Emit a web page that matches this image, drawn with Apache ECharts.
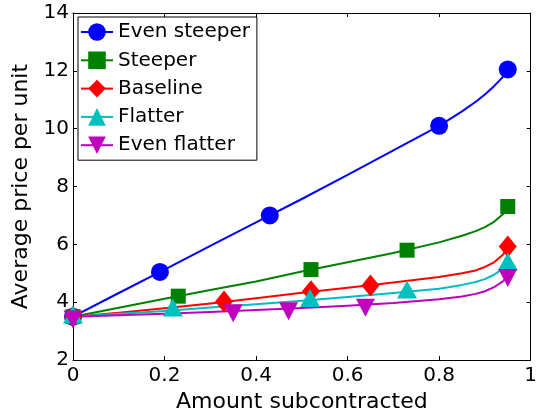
<!DOCTYPE html>
<html>
<head>
<meta charset="utf-8">
<script src="https://cdn.jsdelivr.net/npm/echarts@6/dist/echarts.min.js"></script>
<style>html,body{margin:0;padding:0;background:#fff}#c{width:540px;height:418px}</style>
</head>
<body>
<div id="c"></div>
<script>
// Series names
var seriesNames = ['Even steeper', 'Steeper', 'Baseline', 'Flatter', 'Even flatter'];

// Curve sample points, shared x positions
var curveX = [0, 0.1, 0.2, 0.3, 0.4, 0.5, 0.6, 0.7, 0.8, 0.85, 0.88, 0.9, 0.92, 0.94, 0.95];
var evenSteeperCurve = [3.5, 4.32, 5.13, 5.95, 6.76, 7.57, 8.4, 9.25, 10.1, 10.6, 10.93, 11.18, 11.47, 11.8, 12.05];
var steeperCurve     = [3.5, 3.81, 4.12, 4.42, 4.72, 5.06, 5.38, 5.7, 6.07, 6.3, 6.46, 6.6, 6.78, 7.05, 7.31];
var baselineCurve    = [3.5, 3.64, 3.79, 3.96, 4.14, 4.33, 4.5, 4.68, 4.87, 5.0, 5.1, 5.22, 5.38, 5.65, 5.93];
var flatterCurve     = [3.5, 3.6, 3.7, 3.82, 3.93, 4.05, 4.18, 4.32, 4.47, 4.6, 4.7, 4.8, 4.95, 5.17, 5.35];
var evenFlatterCurve = [3.5, 3.55, 3.6, 3.66, 3.73, 3.8, 3.88, 3.97, 4.1, 4.2, 4.29, 4.38, 4.52, 4.73, 4.93];

// Marker points
var evenSteeperMarkX = [0, 0.19, 0.43, 0.8, 0.95];
var evenSteeperMarkY = [3.5, 5.05, 7.0, 10.1, 12.05];
var steeperMarkX = [0, 0.23, 0.52, 0.73, 0.95];
var steeperMarkY = [3.5, 4.21, 5.13, 5.8, 7.31];
var baselineMarkX = [0, 0.33, 0.52, 0.65, 0.95];
var baselineMarkY = [3.5, 4.03, 4.38, 4.58, 5.93];
var flatterMarkX = [0, 0.218, 0.518, 0.73, 0.95];
var flatterMarkY = [3.58, 3.82, 4.15, 4.44, 5.41];
var evenFlatterMarkX = [0, 0.35, 0.471, 0.639, 0.95];
var evenFlatterMarkY = [3.4, 3.62, 3.69, 3.81, 4.84];

// Axis ticks
var xTicks = [0, 0.2, 0.4, 0.6, 0.8, 1];
var yTicks = [2, 4, 6, 8, 10, 12, 14];

var colors = ['#0000ff', '#008000', '#ff0000', '#00bfbf', '#bf00bf'];
var symbols = ['circle', 'rect', 'diamond', 'triangle', 'path://M0,0L20,0L10,18Z'];
var symbolSizes = [18, 15, [18, 22], [20, 18], [19, 18]];
var curves = [evenSteeperCurve, steeperCurve, baselineCurve, flatterCurve, evenFlatterCurve];
var marksX = [evenSteeperMarkX, steeperMarkX, baselineMarkX, flatterMarkX, evenFlatterMarkX];
var marksY = [evenSteeperMarkY, steeperMarkY, baselineMarkY, flatterMarkY, evenFlatterMarkY];

function zip(xs, ys) { return xs.map(function (x, i) { return [x, ys[i]]; }); }

var FONT = 'DejaVu Sans';
var series = [];
seriesNames.forEach(function (name, i) {
  series.push({
    name: name, type: 'line', data: zip(curveX, curves[i]),
    smooth: false,
    symbol: symbols[i], symbolSize: symbolSizes[i], showSymbol: false,
    color: colors[i], lineStyle: { width: 2, color: colors[i], join: 'round' },
    itemStyle: { color: colors[i] },
    clip: false, silent: true, z: 2
  });
});
seriesNames.forEach(function (name, i) {
  series.push({
    name: name, type: 'scatter', data: zip(marksX[i], marksY[i]),
    symbol: symbols[i], symbolSize: symbolSizes[i],
    itemStyle: { color: colors[i], opacity: 1 },
    clip: false, silent: true, z: 3
  });
});

var axisCommon = {
  axisLine: { show: true, onZero: false, lineStyle: { color: '#000', width: 1 } },
  axisTick: { show: true, inside: true, length: 4, lineStyle: { color: '#000' } },
  splitLine: { show: false }
};

var chart = echarts.init(document.getElementById('c'), null, { renderer: 'canvas' });
chart.setOption({
  animation: false,
  backgroundColor: '#fff',
  grid: { left: 73, top: 13, width: 467, height: 348, containLabel: false },
  legend: {
    data: seriesNames,
    orient: 'vertical', left: 78, top: 17,
    itemWidth: 32, itemHeight: 22, itemGap: 6.3,
    padding: [4, 7, 4, 2],
    backgroundColor: '#fff', borderColor: '#000', borderWidth: 1, borderRadius: 0,
    selectedMode: false,
    textStyle: { fontFamily: FONT, fontSize: 20, color: '#000', lineHeight: 22 }
  },
  xAxis: [
    Object.assign({
      type: 'value', min: xTicks[0], max: xTicks[xTicks.length - 1], interval: 0.2, position: 'bottom',
      name: 'Amount subcontracted', nameLocation: 'middle', nameGap: 29,
      nameTextStyle: { fontFamily: FONT, fontSize: 22, color: '#000' },
      axisLabel: { fontFamily: FONT, fontSize: 20, color: '#000', margin: 6,
        formatter: function (v) { return String(+v.toFixed(1)); } }
    }, axisCommon),
    Object.assign({
      type: 'value', min: xTicks[0], max: xTicks[xTicks.length - 1], interval: 0.2, position: 'top',
      axisLabel: { show: false }
    }, axisCommon)
  ],
  yAxis: [
    Object.assign({
      type: 'value', min: yTicks[0], max: yTicks[yTicks.length - 1], interval: 2, position: 'left',
      name: 'Average price per unit', nameLocation: 'middle', nameGap: 26,
      nameTextStyle: { fontFamily: FONT, fontSize: 22, color: '#000' },
      axisLabel: { fontFamily: FONT, fontSize: 20, color: '#000', margin: 4 }
    }, axisCommon),
    Object.assign({
      type: 'value', min: yTicks[0], max: yTicks[yTicks.length - 1], interval: 2, position: 'right',
      axisLabel: { show: false }
    }, axisCommon)
  ],
  series: series
});
</script>
</body>
</html>
